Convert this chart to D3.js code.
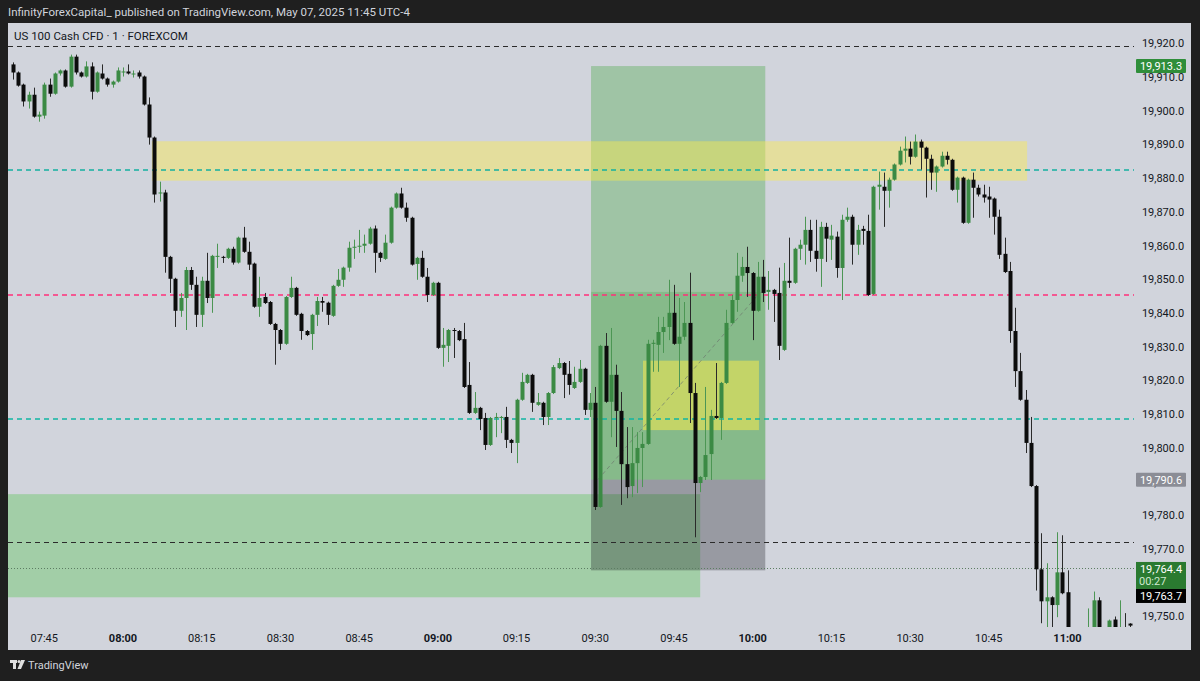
<!DOCTYPE html>
<html><head><meta charset="utf-8">
<script src="https://cdn.jsdelivr.net/npm/d3@7"></script>
<style>
html,body{margin:0;padding:0;background:#1f1f1f;}
svg{display:block;font-family:Roboto,"Liberation Sans",sans-serif;}
</style></head><body>
<svg id="c" width="1200" height="681"></svg>
<script>
// ---------- DATA ----------
const headerText = "InfinityForexCapital_ published on TradingView.com, May 07, 2025 11:45 UTC-4";
const titleText = "US 100 Cash CFD · 1 · FOREXCOM";
const startMinute = 459; // first candle 07:39, 1-minute bars

const opens = [19913.8,19911.4,19907.8,19902.8,19904.8,19898.3,19898.6,19907.8,19905.1,19911.1,19912.0,19907.2,19916.1,19911.4,19910.2,19913.2,19905.7,19911.1,19909.6,19907.8,19908.7,19911.4,19911.7,19910.8,19911.4,19910.2,19901.9,19892.1,19875.5,19875.8,19856.7,19850.2,19840.7,19844.5,19852.8,19848.4,19839.5,19849.6,19844.5,19856.7,19856.7,19856.4,19859.1,19855.0,19862.4,19858.2,19854.7,19841.9,19844.8,19843.3,19836.8,19835.0,19830.9,19844.8,19847.5,19839.8,19834.7,19833.8,19839.5,19843.6,19843.1,19839.2,19848.1,19849.9,19853.5,19859.4,19859.7,19860.0,19860.6,19865.1,19857.9,19856.1,19860.9,19871.3,19875.5,19871.3,19868.3,19854.6,19856.4,19850.8,19845.4,19849.0,19829.7,19830.3,19835.0,19834.7,19832.3,19818.7,19810.4,19811.9,19808.9,19800.9,19809.0,19809.0,19809.2,19802.4,19801.5,19814.3,19819.3,19821.7,19812.8,19813.4,19809.2,19816.3,19823.7,19825.2,19822.0,19817.8,19819.6,19823.5,19811.3,19813.4,19782.5,19830.3,19813.7,19821.7,19811.0,19795.2,19788.7,19795.5,19800.0,19801.2,19830.9,19830.6,19834.4,19835.9,19840.1,19830.9,19833.0,19837.1,19816.3,19789.6,19791.4,19798.2,19809.5,19808.9,19819.3,19837.1,19843.9,19851.1,19853.7,19851.9,19840.7,19850.8,19846.3,19846.9,19846.0,19829.1,19849.6,19849.0,19859.1,19860.3,19864.7,19858.5,19856.1,19865.6,19861.8,19862.7,19853.4,19867.7,19868.6,19860.3,19865.0,19864.4,19845.7,19877.5,19877.5,19876.3,19879.6,19884.1,19888.2,19888.8,19886.4,19890.9,19889.1,19885.8,19881.7,19883.5,19886.7,19885.5,19876.6,19880.2,19866.8,19879.6,19877.2,19875.2,19874.6,19874.0,19868.6,19857.6,19852.5,19834.7,19822.8,19814.3,19801.5,19788.7,19764.0,19754.5,19755.7,19753.4,19763.1,19757.2,19743.0,19739.0,19741.0,19740.0,19745.0,19754.8,19744.0,19743.5,19749.1,19744.0,19745.5,19747.9];
const highs = [19914.4,19911.7,19908.1,19905.7,19906.9,19899.8,19908.4,19909.6,19911.4,19912.3,19912.3,19916.7,19916.7,19911.7,19914.7,19914.4,19911.7,19913.8,19909.9,19909.0,19912.9,19912.9,19913.8,19912.0,19912.0,19910.5,19904.0,19892.4,19879.0,19876.6,19857.0,19850.5,19846.0,19853.7,19853.7,19850.8,19850.8,19857.9,19857.3,19860.6,19857.0,19859.4,19859.7,19862.7,19865.6,19861.2,19855.0,19850.8,19846.0,19843.6,19837.1,19835.3,19845.1,19850.8,19847.8,19840.1,19835.0,19839.8,19844.8,19844.8,19843.4,19848.4,19853.1,19853.8,19861.2,19861.8,19864.7,19863.3,19865.6,19866.0,19858.2,19863.3,19871.6,19875.8,19877.2,19872.8,19868.6,19856.7,19858.5,19853.4,19849.3,19849.3,19835.6,19835.3,19835.6,19835.0,19837.1,19825.5,19816.6,19812.2,19810.4,19809.2,19810.4,19809.5,19812.2,19802.7,19814.6,19822.3,19822.0,19822.0,19816.3,19813.7,19816.6,19824.6,19826.7,19825.5,19825.8,19824.1,19826.1,19823.8,19816.3,19818.1,19830.6,19834.1,19835.6,19824.7,19816.6,19806.2,19806.2,19804.7,19804.7,19832.1,19832.1,19838.9,19838.9,19849.9,19848.4,19844.5,19843.3,19852.0,19819.3,19791.7,19818.1,19811.3,19825.2,19819.6,19841.0,19845.4,19857.9,19856.7,19859.7,19852.2,19855.2,19855.8,19852.5,19847.2,19853.5,19854.9,19862.4,19859.4,19861.8,19868.6,19867.7,19867.7,19867.1,19866.8,19866.2,19864.2,19869.2,19871.3,19869.2,19866.2,19865.9,19869.2,19877.8,19882.0,19881.7,19880.2,19884.4,19889.4,19892.4,19890.9,19893.0,19891.5,19889.4,19887.0,19883.8,19887.9,19887.9,19885.8,19880.5,19880.5,19879.9,19881.7,19878.1,19878.1,19877.5,19874.3,19870.7,19862.4,19855.2,19841.6,19828.2,19817.2,19809.2,19789.0,19774.7,19765.8,19756.0,19775.0,19774.1,19763.7,19745.5,19744.0,19745.0,19752.4,19757.4,19755.7,19746.0,19749.1,19750.0,19754.8,19751.0,19748.0];
const lows = [19909.3,19907.2,19901.3,19900.7,19898.0,19896.8,19897.7,19904.2,19904.8,19910.5,19906.9,19906.9,19910.8,19909.9,19909.9,19903.4,19905.4,19909.3,19907.2,19906.9,19908.4,19910.2,19910.8,19909.9,19909.6,19901.6,19890.0,19872.8,19873.1,19852.0,19846.0,19835.9,19838.9,19835.0,19846.9,19835.9,19835.9,19843.0,19840.1,19853.4,19854.9,19856.1,19854.4,19854.7,19857.9,19852.8,19841.6,19838.9,19842.7,19836.5,19824.7,19829.1,19830.6,19844.5,19839.2,19832.1,19833.2,19829.1,19836.2,19840.4,19836.5,19838.9,19847.8,19847.8,19852.3,19856.1,19857.9,19857.9,19860.3,19852.0,19855.2,19855.8,19860.6,19871.0,19871.0,19867.1,19854.1,19849.9,19850.5,19843.3,19845.1,19829.4,19824.1,19825.5,19826.7,19831.7,19817.8,19810.1,19810.1,19805.3,19799.4,19800.6,19803.2,19804.4,19800.0,19798.5,19795.5,19814.0,19819.0,19810.7,19812.5,19806.8,19806.8,19816.0,19823.4,19814.8,19815.8,19817.5,19819.3,19809.8,19809.2,19781.6,19782.2,19813.4,19803.2,19800.3,19783.1,19785.1,19785.4,19786.6,19788.4,19800.9,19822.6,19822.6,19828.2,19832.0,19830.6,19818.1,19832.0,19807.4,19773.5,19786.9,19790.5,19790.5,19808.6,19802.4,19819.0,19836.8,19840.4,19849.3,19844.8,19832.0,19840.4,19843.3,19841.0,19837.4,19826.1,19828.8,19847.5,19848.7,19855.8,19854.4,19855.2,19852.3,19847.8,19855.2,19855.8,19850.5,19843.9,19867.1,19854.4,19857.3,19860.3,19845.1,19845.4,19870.7,19865.6,19871.3,19879.3,19883.8,19884.7,19884.1,19886.1,19882.6,19874.3,19876.6,19876.0,19883.2,19884.1,19876.3,19872.8,19866.5,19866.5,19868.3,19874.6,19872.8,19868.3,19863.3,19856.1,19851.9,19831.2,19818.1,19814.0,19798.5,19788.4,19757.7,19748.0,19746.8,19746.8,19749.8,19756.6,19740.0,19736.0,19734.0,19737.0,19738.0,19742.0,19741.0,19739.0,19741.0,19742.0,19741.0,19742.0,19744.0];
const closes = [19911.4,19907.5,19902.8,19904.8,19898.3,19898.9,19907.8,19905.1,19911.1,19912.0,19907.2,19916.1,19911.4,19910.2,19913.2,19905.7,19911.4,19909.6,19907.8,19908.7,19912.0,19911.7,19911.1,19911.1,19910.2,19901.9,19892.1,19875.2,19875.8,19856.7,19850.2,19840.7,19844.5,19852.8,19848.4,19839.5,19849.6,19844.5,19857.0,19857.0,19856.4,19859.1,19855.0,19862.4,19858.2,19854.4,19841.9,19844.5,19843.0,19836.8,19835.0,19830.9,19844.8,19847.5,19839.5,19834.7,19833.5,19839.5,19843.6,19843.1,19839.5,19848.1,19849.9,19853.5,19859.4,19859.7,19860.0,19860.6,19865.1,19857.9,19856.4,19860.9,19871.3,19875.5,19871.3,19868.3,19854.4,19856.4,19850.8,19845.4,19849.0,19829.7,19830.6,19835.0,19834.7,19832.0,19818.1,19810.4,19811.9,19808.6,19800.9,19808.9,19809.2,19809.2,19802.4,19801.5,19814.3,19819.6,19821.7,19813.4,19813.6,19809.2,19816.3,19824.0,19825.2,19821.7,19818.7,19819.6,19823.5,19811.3,19813.4,19782.5,19830.3,19813.7,19821.7,19811.0,19795.2,19788.4,19795.5,19800.0,19801.2,19830.9,19831.2,19834.4,19835.9,19840.1,19830.9,19833.0,19837.1,19816.3,19789.6,19791.4,19797.9,19809.5,19808.9,19819.3,19837.1,19843.9,19851.1,19853.7,19851.9,19840.7,19850.8,19846.0,19846.9,19845.7,19830.3,19849.6,19849.0,19859.1,19860.3,19864.7,19858.5,19856.1,19865.6,19862.1,19863.0,19853.4,19867.7,19868.6,19860.3,19864.7,19864.4,19845.4,19877.5,19878.1,19876.3,19879.6,19884.1,19888.2,19888.8,19886.4,19890.9,19889.1,19885.8,19881.7,19883.5,19886.7,19885.5,19876.6,19880.2,19866.8,19879.6,19877.2,19875.2,19874.3,19873.7,19868.6,19857.3,19852.2,19834.7,19822.8,19814.3,19801.5,19788.7,19764.0,19754.5,19755.7,19753.4,19763.1,19756.9,19743.0,19739.0,19741.0,19740.0,19745.0,19754.8,19744.0,19742.0,19748.8,19745.0,19746.0,19745.0,19747.3];

// 19,760.0 is hidden behind the last-price label in the reference
const priceTicks = [19750,19770,19780,19790,19800,19810,19820,19830,19840,19850,19860,19870,19880,19890,19900,19910,19920];
const timeTicks = [465,480,495,510,525,540,555,570,585,600,615,630,645,660];
const timeTickLabels = ["07:45","08:00","08:15","08:30","08:45","09:00","09:15","09:30","09:45","10:00","10:15","10:30","10:45","11:00"];
const boldTimeLabels = ["08:00","09:00","10:00","11:00"];

// horizontal levels
const levelPrices = [19919.4, 19882.6, 19845.4, 19808.6, 19772.0, 19764.4];
const levelColors = ["#2b2b2b", "#14b0a0", "#ff2f7a", "#10b5a3", "#2b2b2b", "#5d7d63"];
const levelWidths = [1, 1.5, 1.6, 1.6, 1, 1];
const levelDashes = ["5,4", "5,4", "5,4", "5,4", "5,4", "1,2"];

// zones: [tStart, tEnd, pLow, pHigh]
const supplyZone = [485.5, 652.3, 19879.3, 19891.0];
const demandZone = [440, 590.0, 19755.7, 19786.3];
const targetZone = [569.2, 602.4, 19790.6, 19913.3];
const innerTarget = [569.2, 602.4, 19790.6, 19846.3];
const stopZone = [569.2, 602.4, 19763.7, 19790.6];
const entryBox = [579.1, 601.2, 19805.3, 19825.9];
const positionLine = [[570.5, 19790.6], [601.5, 19846.3]];

const axisLabels = [ {p:19913.3, text:"19,913.3", kind:"green"}, {p:19790.6, text:"19,790.6", kind:"gray"} ];
const lastPrice = 19764.4, lastPriceText = "19,764.4", countdown = "00:27", bidText = "19,763.7";

// ---------- DRAW ----------
const svg = d3.select("#c");
const W = 1200, H = 681;
const chart = {l: 8, t: 23, r: 1191, b: 650};
const plot = {l: 8, t: 23, r: 1134, b: 627};

const x = d3.scaleLinear().domain([480, 660]).range([123, 1067.5]);
const y = d3.scaleLinear().domain([19750, 19920]).range([616.5, 43.5]);

svg.append("rect").attr("width", W).attr("height", H).attr("fill", "#1f1f1f");
svg.append("rect").attr("x", chart.l).attr("y", chart.t).attr("width", chart.r - chart.l).attr("height", chart.b - chart.t).attr("fill", "#d1d4dc");

svg.append("text").attr("x", 8).attr("y", 16).attr("fill", "#d1d4dc").attr("font-size", 11.5).text(headerText);
svg.append("text").attr("x", 14).attr("y", 40).attr("fill", "#131722").attr("font-size", 11.5).text(titleText);

const defs = svg.append("defs");
defs.append("clipPath").attr("id", "pc").append("rect")
  .attr("x", plot.l).attr("y", plot.t).attr("width", plot.r - plot.l).attr("height", plot.b - plot.t);

const pg = svg.append("g").attr("clip-path", "url(#pc)");

function zoneRect(z, fill) {
  pg.append("rect")
    .attr("x", x(z[0])).attr("width", x(z[1]) - x(z[0]))
    .attr("y", y(z[3])).attr("height", y(z[2]) - y(z[3]))
    .attr("fill", fill);
}
zoneRect(demandZone, "rgba(120,200,120,0.53)");
zoneRect(targetZone, "rgba(110,180,110,0.5)");
zoneRect(innerTarget, "rgba(90,170,90,0.35)");
zoneRect(stopZone, "rgba(20,20,30,0.30)");
zoneRect(entryBox, "rgba(255,238,70,0.5)");
zoneRect(supplyZone, "rgba(255,235,70,0.42)");

pg.append("line")
  .attr("x1", x(positionLine[0][0])).attr("y1", y(positionLine[0][1]))
  .attr("x2", x(positionLine[1][0])).attr("y2", y(positionLine[1][1]))
  .attr("stroke", "#6e7a70").attr("stroke-width", 1).attr("stroke-dasharray", "4,3").attr("opacity", 0.7);

pg.selectAll("line.level").data(levelPrices).join("line").attr("class", "level")
  .attr("x1", plot.l).attr("x2", plot.r)
  .attr("y1", (d, i) => Math.round(y(d)) + (levelWidths[i] > 1 ? 0 : 0.5))
  .attr("y2", (d, i) => Math.round(y(d)) + (levelWidths[i] > 1 ? 0 : 0.5))
  .style("stroke", (d, i) => levelColors[i]).style("stroke-width", (d, i) => levelWidths[i] + "px")
  .style("stroke-dasharray", (d, i) => levelDashes[i]);

const candles = opens.map((o, i) => ({t: startMinute + i, o, h: highs[i], l: lows[i], c: closes[i]}));
const up = "#3b8a44", down = "#0c0c0c";
pg.selectAll("line.wick").data(candles).join("line").attr("class", "wick")
  .attr("x1", d => Math.round(x(d.t)) + 0.5).attr("x2", d => Math.round(x(d.t)) + 0.5)
  .attr("y1", d => y(d.h)).attr("y2", d => y(d.l))
  .attr("stroke", d => d.c >= d.o ? "#4c9654" : "#2a2a2a").attr("stroke-width", 1);
pg.selectAll("rect.body").data(candles).join("rect").attr("class", "body")
  .attr("x", d => Math.round(x(d.t)) - 1.5).attr("width", 4)
  .attr("y", d => y(Math.max(d.o, d.c)))
  .attr("height", d => Math.max(1, Math.abs(y(d.o) - y(d.c))))
  .attr("fill", d => d.c >= d.o ? up : down);

// price axis
const fmt = d3.format(",.1f");
const pa = svg.append("g");
pa.selectAll("text").data(priceTicks).join("text")
  .attr("x", 1163).attr("y", d => y(d)).attr("dy", "0.35em")
  .attr("text-anchor", "middle").attr("font-size", 11).attr("fill", "#131722")
  .text(d => fmt(d));

// time axis
const ta = svg.append("g");
ta.selectAll("text").data(timeTicks).join("text")
  .attr("x", d => x(d)).attr("y", 642)
  .attr("text-anchor", "middle").attr("font-size", 11).attr("fill", "#131722")
  .attr("font-weight", (d, i) => boldTimeLabels.includes(timeTickLabels[i]) ? "bold" : "normal")
  .text((d, i) => timeTickLabels[i]);

// axis price labels
const labelFill = {green: "#2f8e3a", gray: "#8b8d96"};
axisLabels.forEach(a => {
  const cy = y(a.p);
  svg.append("rect").attr("x", 1136).attr("y", cy - 7).attr("width", 50).attr("height", 14).attr("rx", 1).attr("fill", labelFill[a.kind]);
  svg.append("text").attr("x", 1161).attr("y", cy).attr("dy", "0.35em").attr("text-anchor", "middle")
    .attr("font-size", 11).attr("fill", "#ffffff").text(a.text);
});
const ly = y(lastPrice);
svg.append("rect").attr("x", 1136).attr("y", ly - 6).attr("width", 50).attr("height", 27).attr("fill", "#2a7a30");
svg.append("text").attr("x", 1161).attr("y", ly + 1).attr("dy", "0.35em").attr("text-anchor", "middle")
  .attr("font-size", 11).attr("fill", "#ffffff").text(lastPriceText);
svg.append("text").attr("x", 1139).attr("y", ly + 13).attr("dy", "0.35em").attr("text-anchor", "start")
  .attr("font-size", 11).attr("fill", "#cfe8cf").text(countdown);
svg.append("rect").attr("x", 1136).attr("y", ly + 21).attr("width", 50).attr("height", 14).attr("fill", "#000000");
svg.append("text").attr("x", 1161).attr("y", ly + 28).attr("dy", "0.35em").attr("text-anchor", "middle")
  .attr("font-size", 11).attr("fill", "#ffffff").text(bidText);

// footer logo
const lg = svg.append("g").attr("fill", "#e0e0e0");
lg.append("rect").attr("x", 10).attr("y", 660).attr("width", 7).attr("height", 3);
lg.append("rect").attr("x", 13).attr("y", 660).attr("width", 3).attr("height", 9);
lg.append("circle").attr("cx", 19).attr("cy", 661.5).attr("r", 1.5);
lg.append("path").attr("d", "M21,660 L25,660 L21,669 L17.5,669 Z");
svg.append("text").attr("x", 28).attr("y", 669).attr("fill", "#d1d4dc").attr("font-size", 11).text("TradingView");
</script>
</body></html>
